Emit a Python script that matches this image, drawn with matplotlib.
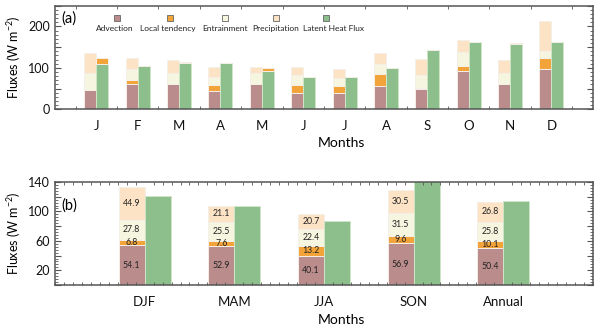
import numpy as np
import matplotlib
matplotlib.use("Agg")
import matplotlib.pyplot as plt
from matplotlib.ticker import MultipleLocator, FixedLocator, FuncFormatter
from matplotlib.patches import Rectangle

plt.rcParams['font.family'] = ['Lato', 'DejaVu Sans']
plt.rcParams['mathtext.fontset'] = 'custom'
plt.rcParams['mathtext.rm'] = 'Lato'

# ---------------- data ----------------
months = ["J", "F", "M", "A", "M", "J", "J", "A", "S", "O", "N", "D"]
adv_m = [47, 60, 60, 45, 60, 39, 39, 56, 48, 93, 61, 97]
lt_m = [-14, 11, -4, 13, -7, 19, 17, 30, 4, 12, -3, 26]   # negative values drawn on top of LHF bar
ent_m = [40, 26, 28, 21, 28, 25, 20, 23, 31, 34, 27, 18]
pre_m = [48, 27, 32, 22, 15, 20, 21, 26, 39, 28, 30, 73]
lhf_m = [109, 104, 111, 111, 93, 79, 77, 100, 143, 162, 157, 163]

seasons = ["DJF", "MAM", "JJA", "SON", "Annual"]
adv_s = [54.1, 52.9, 40.1, 56.9, 50.4]
lt_s = [6.8, 7.6, 13.2, 9.6, 10.1]
ent_s = [27.8, 25.5, 22.4, 31.5, 25.8]
pre_s = [44.9, 21.1, 20.7, 30.5, 26.8]
lhf_s = [121, 107.5, 87, 154, 114]

legend_labels = ["Advection", "Local tendency", "Entrainment", "Precipitation", "Latent Heat Flux"]

# ---------------- style ----------------
c_adv = "#bb8c8c"
c_lt = "#f2a33a"
c_ent = "#f6f5df"
c_pre = "#fde3c5"
c_lhf = "#8cbf8c"
e_stack = "#f4efe8"
e_lhf = "#cfe5c8"
spine_c = "#555555"

fig = plt.figure(figsize=(6, 3.25), dpi=100)
ax1 = fig.add_axes([0.0917, 0.6637, 0.8963, 0.3188])
ax2 = fig.add_axes([0.0917, 0.123, 0.8963, 0.317])

w = 0.29

# ---- panel (a)
x = np.arange(1, 13)
adv = np.array(adv_m, float)
lt = np.array(lt_m, float)
ent = np.array(ent_m, float)
pre = np.array(pre_m, float)
lhf = np.array(lhf_m, float)
ltp = np.clip(lt, 0, None)
ltn = np.clip(-lt, 0, None)
xs = x - w / 2
xg = x + w / 2
kw = dict(width=w, linewidth=0.7)
ax1.bar(xs, adv, color=c_adv, edgecolor=e_stack, **kw)
ax1.bar(xs, ltp, bottom=adv, color=c_lt, edgecolor=e_stack, **kw)
ax1.bar(xs, ent, bottom=adv + ltp, color=c_ent, edgecolor=e_stack, **kw)
ax1.bar(xs, pre, bottom=adv + ltp + ent, color=c_pre, edgecolor=e_stack, **kw)
ax1.bar(xg, lhf, color=c_lhf, edgecolor=e_lhf, **kw)
ax1.bar(xg, ltn, bottom=lhf, color=c_lt, edgecolor=e_stack, **kw)

ax1.set_xlim(0, 13)
ax1.set_ylim(0, 250)
ax1.set_xticks(x)
ax1.set_xticklabels(months, fontsize=9.5)
ax1.xaxis.set_minor_locator(FixedLocator(np.arange(0.5, 13, 1.0)))
ax1.yaxis.set_major_locator(MultipleLocator(50))
ax1.yaxis.set_minor_locator(MultipleLocator(10))
ax1.yaxis.set_major_formatter(FuncFormatter(lambda v, p: f"{int(v)}" if int(v) % 100 == 0 else ""))
ax1.set_ylabel("Fluxes (W m$^{-2}$)", fontsize=9, labelpad=4)
ax1.set_xlabel("Months", fontsize=10, labelpad=3)
ax1.xaxis.set_label_coords(0.533, -0.27)
ax1.text(0.012, 0.88, "(a)", transform=ax1.transAxes, fontsize=10.5, va="center", ha="left")

# custom legend: square above label
leg_cols = [c_adv, c_lt, c_ent, c_pre, c_lhf]
sq_px = [117, 170, 225, 276, 326]
lab_px = [115, 167.5, 225, 276, 334]
for col, lab, sp, lp in zip(leg_cols, legend_labels, sq_px, lab_px):
    fx = (sp - 55) / 538.0
    sw = 6.5 / 538.0
    sh = 6.5 / 103.6
    ax1.add_patch(Rectangle((fx - sw / 2, 0.88 - sh / 2), sw, sh, transform=ax1.transAxes,
                            facecolor=col, edgecolor="#666666", linewidth=0.6, clip_on=False))
    ax1.text((lp - 55) / 538.0, 0.775, lab, transform=ax1.transAxes, fontsize=6,
             ha="center", va="center", color="#222222")

# ---- panel (b)
xb = np.arange(1, 6)
adv2 = np.array(adv_s)
lt2 = np.array(lt_s)
ent2 = np.array(ent_s)
pre2 = np.array(pre_s)
lhf2 = np.array(lhf_s)
xs2 = xb - w / 2
xg2 = xb + w / 2
ax2.bar(xs2, adv2, color=c_adv, edgecolor=e_stack, **kw)
ax2.bar(xs2, lt2, bottom=adv2, color=c_lt, edgecolor=e_stack, **kw)
ax2.bar(xs2, ent2, bottom=adv2 + lt2, color=c_ent, edgecolor=e_stack, **kw)
ax2.bar(xs2, pre2, bottom=adv2 + lt2 + ent2, color=c_pre, edgecolor=e_stack, **kw)
ax2.bar(xg2, lhf2, color=c_lhf, edgecolor=e_lhf, **kw)

bottoms = [np.zeros(5), adv2, adv2 + lt2, adv2 + lt2 + ent2]
for vals, bot in zip([adv2, lt2, ent2, pre2], bottoms):
    for xi, v, b in zip(xs2, vals, bot):
        ax2.text(xi, b + v / 2, f"{v:.1f}", ha="center", va="center", fontsize=6.3, color="#222222")

ax2.set_xlim(0, 6)
ax2.set_ylim(0, 140)
ax2.set_xticks(xb)
ax2.set_xticklabels(seasons, fontsize=9.5)
ax2.xaxis.set_minor_locator(MultipleLocator(0.1))
ax2.yaxis.set_major_locator(MultipleLocator(20))
ax2.yaxis.set_minor_locator(MultipleLocator(4))
ax2.yaxis.set_major_formatter(FuncFormatter(lambda v, p: f"{int(v)}" if int(v) % 40 == 20 else ""))
ax2.set_ylabel("Fluxes (W m$^{-2}$)", fontsize=9, labelpad=4)
ax2.set_xlabel("Months", fontsize=10)
ax2.xaxis.set_label_coords(0.533, -0.28)
ax2.text(0.012, 0.775, "(b)", transform=ax2.transAxes, fontsize=10.5, va="center", ha="left")

for ax in (ax1, ax2):
    for s in ax.spines.values():
        s.set_color(spine_c)
        s.set_linewidth(1.1)
    ax.tick_params(axis="both", which="both", direction="in", top=True, right=True, colors=spine_c,
                   labelcolor="#111111")
    ax.tick_params(axis="y", which="major", length=4, labelsize=9)
    ax.tick_params(axis="y", which="minor", length=2)
    ax.tick_params(axis="x", which="major", length=0, pad=8)
    ax.tick_params(axis="x", which="minor", length=2.5)

fig.savefig("out.png", dpi=100)
